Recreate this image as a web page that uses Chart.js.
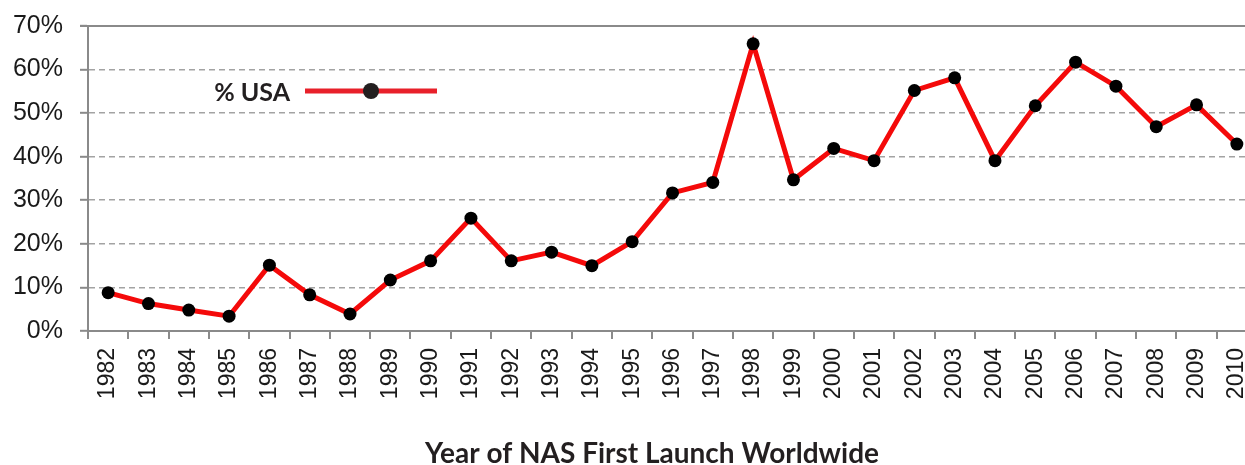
<!DOCTYPE html>
<html><head><meta charset="utf-8">
<script src="https://cdn.jsdelivr.net/npm/chart.js@4"></script>
<style>
html,body{margin:0;padding:0;background:#fff;overflow:hidden;}
#wrap{width:1302px;height:465px;position:relative;}
canvas{display:block;}
</style></head><body>
<div id="wrap"><canvas id="c" width="1302" height="465"></canvas></div>
<script>
const years = ['1982','1983','1984','1985','1986','1987','1988','1989','1990','1991','1992','1993','1994','1995','1996','1997','1998','1999','2000','2001','2002','2003','2004','2005','2006','2007','2008','2009','2010'];
const usaShare = [8.8,6.3,4.8,3.4,15.1,8.3,3.9,11.7,16.1,25.9,16.1,18.1,15.0,20.5,31.7,34.1,65.9,34.7,41.9,39.1,55.2,58.1,39.1,51.7,61.7,56.2,46.9,51.9,42.9];
const yTicks = [0,10,20,30,40,50,60,70];
const seriesLabel = '% USA';
const axisTitle = 'Year of NAS First Launch Worldwide';

const lineRed = '#F40A0A';
const legendRed = '#E8202A';
const axisGray = '#8a8a8a';

const topBorder = {
  id: 'topBorder',
  afterDraw(chart) {
    const {ctx, chartArea, scales} = chart;
    const y = scales.y.getPixelForValue(yTicks[yTicks.length - 1]);
    ctx.save();
    ctx.strokeStyle = axisGray;
    ctx.lineWidth = 2;
    ctx.beginPath();
    ctx.moveTo(chartArea.left - 8, y);
    ctx.lineTo(chartArea.right, y);
    ctx.stroke();
    ctx.restore();
  }
};

const innerLegend = {
  id: 'innerLegend',
  afterDatasetsDraw(chart) {
    const ctx = chart.ctx;
    ctx.save();
    ctx.font = 'bold 25px Lato';
    ctx.fillStyle = '#231f20';
    ctx.textAlign = 'right';
    ctx.textBaseline = 'alphabetic';
    ctx.fillText(seriesLabel, 290, 101);
    ctx.strokeStyle = legendRed;
    ctx.lineWidth = 5;
    ctx.beginPath();
    ctx.moveTo(305, 91);
    ctx.lineTo(437, 91);
    ctx.stroke();
    ctx.fillStyle = '#231f20';
    ctx.beginPath();
    ctx.arc(371, 91, 8, 0, Math.PI * 2);
    ctx.fill();
    ctx.restore();
  }
};

const bottomTitle = {
  id: 'bottomTitle',
  afterDraw(chart) {
    const ctx = chart.ctx;
    ctx.save();
    ctx.font = 'bold 28px Lato';
    ctx.fillStyle = '#231f20';
    ctx.textAlign = 'center';
    ctx.textBaseline = 'alphabetic';
    ctx.fillText(axisTitle, 652, 463);
    ctx.restore();
  }
};

new Chart(document.getElementById('c'), {
  type: 'line',
  data: {
    labels: years,
    datasets: [{
      label: seriesLabel,
      data: usaShare,
      borderColor: lineRed,
      borderWidth: 5,
      pointRadius: 6.5,
      pointBackgroundColor: '#000',
      pointBorderWidth: 0,
      pointHoverRadius: 6.5,
      tension: 0,
      fill: false
    }]
  },
  options: {
    responsive: false,
    animation: false,
    devicePixelRatio: 1,
    layout: { autoPadding: false, padding: { top: 26, left: 0, right: 45, bottom: 0 } },
    plugins: {
      legend: { display: false },
      tooltip: { enabled: false },
      title: { display: false }
    },
    scales: {
      x: {
        type: 'category',
        offset: true,
        afterFit(s) { s.height = 134; s.paddingTop = 0; s.paddingBottom = 0; },
        grid: { offset: true, drawOnChartArea: false, drawTicks: true, tickLength: 8, color: axisGray, lineWidth: 2 },
        border: { display: true, color: axisGray, width: 2 },
        ticks: {
          autoSkip: false, minRotation: 90, maxRotation: 90, padding: 9,
          color: '#1a1a1a',
          font: { family: 'Liberation Sans', size: 23 }
        }
      },
      y: {
        min: 0, max: 70,
        afterFit(s) { s.width = 88; s.paddingTop = 0; s.paddingBottom = 0; },
        afterBuildTicks(s) { s.ticks = yTicks.map(v => ({ value: v })); },
        grid: {
          color: c => (c.tick && c.tick.value === yTicks[yTicks.length - 1]) ? 'rgba(0,0,0,0)' : '#a3a3a3',
          lineWidth: 1.6,
          tickColor: axisGray,
          tickWidth: 2,
          tickLength: 8,
          tickBorderDash: []
        },
        border: { display: true, color: axisGray, width: 2, dash: [6, 4] },
        ticks: {
          padding: 17,
          color: '#1a1a1a',
          font: { family: 'Liberation Sans', size: 25 },
          callback: v => v + '%'
        }
      }
    }
  },
  plugins: [topBorder, innerLegend, bottomTitle]
});
</script>
</body></html>
